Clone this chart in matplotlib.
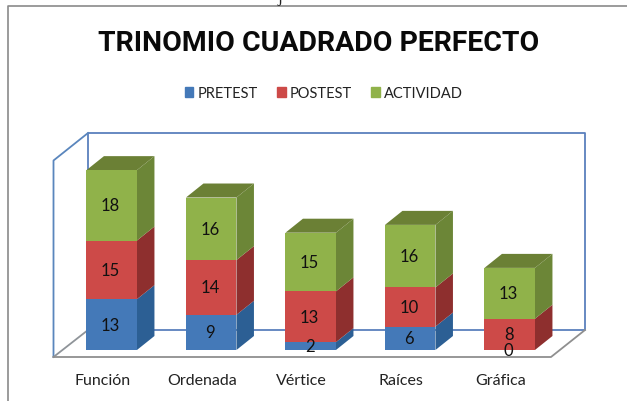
#!/usr/bin/env python3
# -*- coding: utf-8 -*-
"""Barras apiladas con efecto 3D: trinomio cuadrado perfecto"""

import matplotlib
matplotlib.use("Agg")
import matplotlib.pyplot as plt
from matplotlib.patches import Patch, Polygon

# datos
categorias = ["Función", "Ordenada", "Vértice", "Raíces", "Gráfica"]
pretest = [13, 9, 2, 6, 0]
postest = [15, 14, 13, 10, 8]
actividad = [18, 16, 15, 16, 13]
series = ["PRETEST", "POSTEST", "ACTIVIDAD"]

# colores: frente, lado, tapa
azul = ("#4479b8", "#2c5f94")
rojo = ("#cd4a48", "#8e2f2e")
verde = ("#90b24a", "#6c8637", "#6b8035")

W, H = 627, 402
X0, DX = 111.7, 99.5     # pixel del centro de la primera barra y separacion
Y0, DY = 351.0, 3.91     # pixel de la base y pixeles por unidad
ANCHO = 50.5 / DX
PROF_X = 17.5 / DX
PROF_Y = 14.0 / DY


def px(x, y):
    """pixel de la imagen -> coordenadas de datos"""
    return (x - X0) / DX, (Y0 - y) / DY


def linea(ax, puntos, color, lw=1.3, z=1):
    xs, ys = zip(*[px(*p) for p in puntos])
    ax.plot(xs, ys, color=color, lw=lw, zorder=z, solid_capstyle="projecting")


def segmento(ax, i, base, valor, frente, lado):
    izq, der = i - ANCHO / 2, i + ANCHO / 2
    tope = base + valor
    ax.add_patch(Polygon([(der, base), (der + PROF_X, base + PROF_Y),
                          (der + PROF_X, tope + PROF_Y), (der, tope)],
                         facecolor=lado, edgecolor="none", zorder=3))
    ax.add_patch(Polygon([(izq, base), (der, base), (der, tope), (izq, tope)],
                         facecolor=frente, edgecolor="none", zorder=4))


plt.rcParams["font.family"] = ["Lato", "DejaVu Sans"]
fig = plt.figure(figsize=(W / 100, H / 100), dpi=100, facecolor="white")
ax = fig.add_axes([0, 0, 1, 1])
ax.set_xlim(px(0, 0)[0], px(W, 0)[0])
ax.set_ylim(px(0, H)[1], px(0, 0)[1])
ax.axis("off")

# marco de la pagina
linea(ax, [(8, H), (8, 6.5), (W, 6.5)], "#8a8a8a", lw=1.2)

# paredes y piso
linea(ax, [(88, 331), (88, 134), (585, 134), (585, 331), (88, 331)], "#5a80bd")
linea(ax, [(53.5, 358), (53.5, 161.5), (88, 134)], "#5a86bd")
linea(ax, [(53.5, 358), (88, 331)], "#8f9499")
linea(ax, [(53.5, 358), (551, 358), (585, 331)], "#8f8f8f")

# barras
for i in range(len(categorias)):
    base = 0
    for valor, col in zip((pretest[i], postest[i], actividad[i]), (azul, rojo, verde)):
        if valor > 0:
            segmento(ax, i, base, valor, col[0], col[1])
        etiqueta = base + valor / 2
        ax.text(i - 0.01, etiqueta, str(valor), ha="center", va="center",
                fontsize=12, color="#111111", zorder=6)
        base += valor
    # tapa
    izq, der = i - ANCHO / 2, i + ANCHO / 2
    ax.add_patch(Polygon([(izq, base), (der, base), (der + PROF_X, base + PROF_Y),
                          (izq + PROF_X, base + PROF_Y)],
                         facecolor=verde[2], edgecolor="none", zorder=3))
    ax.text(i - 0.09, px(0, 381.5)[1], categorias[i], ha="center", va="center",
            fontsize=11.5, color="#222222")

# titulo
ax.text(px(319, 0)[0], px(0, 44)[1], "TRINOMIO CUADRADO PERFECTO", ha="center",
        va="center", fontsize=20.4, fontweight="bold", family="Roboto", color="#0a0a0a")

# leyenda
marcas = [Patch(color=azul[0]), Patch(color=rojo[0]), Patch(color=verde[0])]
ax.legend(marcas, series, ncol=3, frameon=False, loc="center",
          bbox_to_anchor=(324 / W, 1 - 94 / H), fontsize=10.5,
          handlelength=0.6, handleheight=0.7, handletextpad=0.3,
          columnspacing=1.3, labelcolor="#222222")

# restos de la linea de texto de arriba
ax.text(px(280, 0)[0], px(0, 2)[1], "j", ha="center", va="baseline",
        fontsize=12, family="Liberation Serif", color="#222222")

fig.savefig("out.png", dpi=100)
plt.close(fig)
